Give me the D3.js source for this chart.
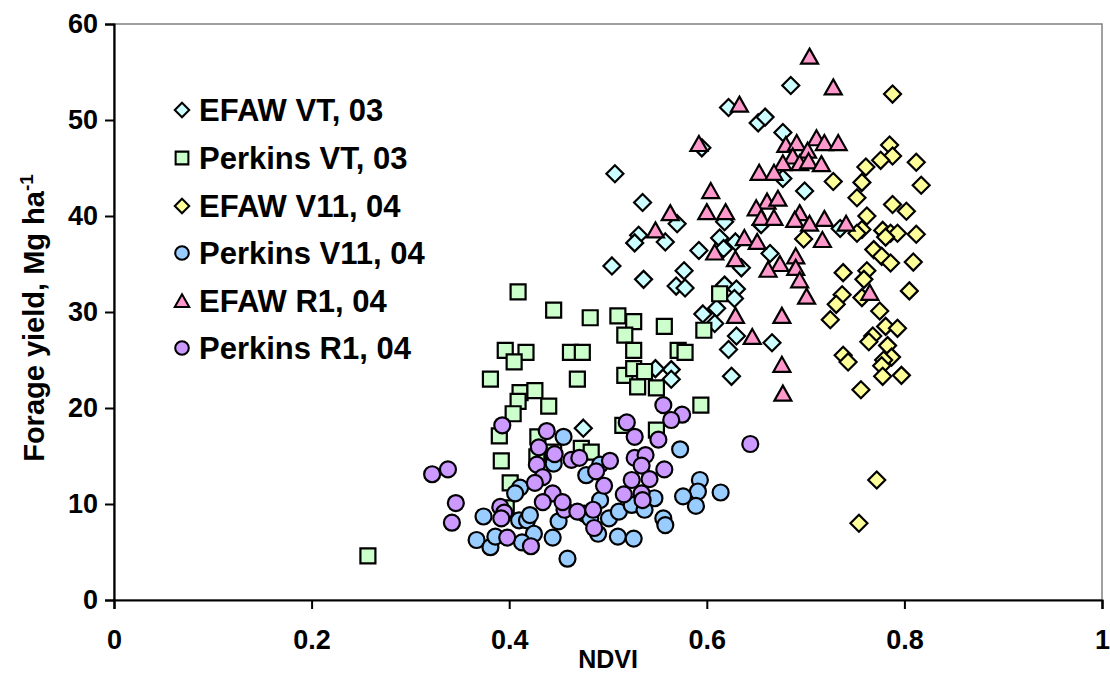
<!DOCTYPE html>
<html><head><meta charset="utf-8">
<script src="https://cdn.jsdelivr.net/npm/d3@7"></script>
<style>
html,body{margin:0;padding:0;background:#fff;}
svg text{font-family:"Liberation Sans",Arial,sans-serif;font-weight:bold;fill:#000;}
</style></head><body>
<svg id="chart" width="1110" height="676"></svg>
<script>
// ---- data (NDVI, forage yield Mg/ha) ----
const seriesNames = ["EFAW VT, 03","Perkins VT, 03","EFAW V11, 04","Perkins V11, 04","EFAW R1, 04","Perkins R1, 04"];
const xTicks = [0,0.2,0.4,0.6,0.8,1];
const xTickLabels = ["0","0.2","0.4","0.6","0.8","1"];
const yTicks = [0,10,20,30,40,50,60];

const efawVT_x = [0.685,0.622,0.652,0.659,0.677,0.595,0.507,0.677,0.699,0.535,0.570,0.618,0.655,0.531,0.527,0.558,0.613,0.629,0.735,0.592,0.617,0.664,0.504,0.635,0.536,0.577,0.569,0.578,0.618,0.630,0.628,0.610,0.596,0.608,0.630,0.666,0.622,0.625,0.564,0.564,0.548,0.475];
const efawVT_y = [53.6,51.3,49.7,50.3,48.7,47.1,44.4,43.9,42.6,41.4,39.2,39.4,39.1,38.0,37.2,37.3,37.7,37.3,38.7,36.4,36.6,36.1,34.8,34.6,33.4,34.3,32.7,32.5,32.8,32.4,31.4,30.4,29.8,28.8,27.5,26.8,26.1,23.3,24.0,23.0,24.1,17.9];

const perkVT_x = [0.409,0.445,0.482,0.510,0.526,0.517,0.526,0.396,0.417,0.405,0.462,0.474,0.381,0.469,0.517,0.526,0.537,0.530,0.549,0.411,0.426,0.440,0.409,0.404,0.390,0.429,0.392,0.428,0.401,0.257,0.515,0.549,0.473,0.483,0.445,0.397,0.557,0.613,0.597,0.571,0.578,0.594];
const perkVT_y = [32.1,30.2,29.4,29.6,29.0,27.6,26.0,26.0,25.8,24.8,25.8,25.8,23.0,23.0,23.4,24.1,23.8,22.2,22.1,21.6,21.8,20.2,20.7,19.4,17.1,17.0,14.5,14.9,12.2,4.6,18.2,17.7,15.8,15.4,15.4,9.6,28.5,31.9,28.1,26.0,25.8,20.3];

const efawV11_x = [0.788,0.785,0.788,0.776,0.812,0.761,0.728,0.757,0.817,0.752,0.788,0.802,0.762,0.757,0.752,0.778,0.786,0.793,0.781,0.812,0.698,0.769,0.777,0.786,0.809,0.738,0.762,0.759,0.805,0.737,0.731,0.757,0.775,0.725,0.781,0.793,0.768,0.764,0.783,0.738,0.743,0.787,0.779,0.777,0.797,0.778,0.756,0.772,0.754];
const efawV11_y = [52.7,47.4,46.25,45.8,45.6,45.1,43.6,43.5,43.2,41.9,41.2,40.5,40.0,38.6,38.2,38.5,38.2,38.2,37.8,38.1,37.6,36.5,35.8,35.1,35.2,34.1,34.3,33.4,32.2,31.8,30.8,31.5,30.1,29.2,28.5,28.3,27.5,26.9,26.5,25.5,24.8,25.3,25.0,24.4,23.4,23.3,21.9,12.5,8.0];

const perkV11_x = [0.455,0.411,0.406,0.445,0.478,0.492,0.374,0.367,0.381,0.386,0.410,0.418,0.421,0.425,0.413,0.444,0.450,0.459,0.476,0.482,0.492,0.490,0.501,0.511,0.510,0.526,0.524,0.573,0.593,0.591,0.589,0.576,0.614,0.556,0.558,0.547,0.537];
const perkV11_y = [17.0,11.7,11.1,14.2,13.0,14.1,8.7,6.25,5.5,6.6,8.3,8.3,8.85,6.9,6.0,6.5,8.2,4.3,9.0,8.5,10.4,6.9,8.5,9.2,6.6,6.4,9.9,15.7,12.5,11.3,9.8,10.8,11.2,8.5,7.8,10.6,9.4];

const efawR1_x = [0.704,0.728,0.633,0.592,0.680,0.691,0.711,0.719,0.733,0.702,0.687,0.677,0.694,0.703,0.716,0.653,0.668,0.604,0.661,0.672,0.650,0.563,0.600,0.619,0.655,0.668,0.694,0.689,0.704,0.719,0.741,0.548,0.638,0.651,0.717,0.608,0.629,0.690,0.674,0.662,0.690,0.694,0.701,0.765,0.629,0.676,0.646,0.676,0.677];
const efawR1_y = [56.6,53.4,51.6,47.5,47.4,47.6,48.1,47.6,47.6,46.8,46.2,45.5,45.5,45.7,45.4,44.5,44.5,42.6,41.5,41.8,40.8,40.3,40.4,40.4,39.8,39.8,40.3,39.6,39.2,39.7,39.2,38.5,37.7,37.3,37.5,36.2,35.5,35.8,35.0,34.4,34.6,33.3,31.6,32.0,29.6,29.6,27.4,24.5,21.5];

const perkR1_x = [0.322,0.338,0.346,0.342,0.393,0.438,0.430,0.446,0.428,0.434,0.426,0.463,0.471,0.502,0.488,0.496,0.444,0.434,0.456,0.454,0.469,0.485,0.486,0.391,0.395,0.392,0.398,0.422,0.519,0.527,0.524,0.516,0.527,0.556,0.575,0.564,0.551,0.644,0.538,0.534,0.557,0.542,0.534,0.535];
const perkR1_y = [13.1,13.6,10.1,8.05,18.2,17.6,15.9,15.2,14.1,12.8,12.2,14.6,14.8,14.5,13.4,11.9,11.1,10.2,9.4,10.2,9.2,9.4,7.5,9.7,9.1,8.5,6.5,5.6,18.5,17.0,12.5,11.0,14.8,20.3,19.3,18.75,16.7,16.25,15.1,14.0,13.6,12.6,11.1,10.4];

// ---- styling ----
const fills = ["#CCFFFF","#CCFFCC","#FFFF99","#99CCFF","#FF99CC","#CC99FF"];
const shapes = ["diamond","square","diamond","circle","triangle","circle"];
const seriesX = [efawVT_x,perkVT_x,efawV11_x,perkV11_x,efawR1_x,perkR1_x];
const seriesY = [efawVT_y,perkVT_y,efawV11_y,perkV11_y,efawR1_y,perkR1_y];

const svg = d3.select("#chart");
const L = 114, R = 1102, T = 24, B = 600;
const x = d3.scaleLinear().domain([0,1]).range([L,R]);
const y = d3.scaleLinear().domain([0,60]).range([B,T]);

function shapePath(s){
  if(s==="diamond") return "M0,-8.5L8.5,0L0,8.5L-8.5,0Z";
  if(s==="square") return "M-7.5,-7.5H7.5V7.5H-7.5Z";
  if(s==="triangle") return "M0,-8L8.5,7L-8.5,7Z";
  return d3.symbol(d3.symbolCircle, Math.PI*8*8)();
}

// plot-area border (grey top/right)
svg.append("rect").attr("x",L).attr("y",T).attr("width",R-L).attr("height",B-T)
  .attr("fill","none").attr("stroke","#808080").attr("stroke-width",1.5);

const FONT = "'Liberation Sans',Arial,sans-serif";
// axes
const xAxis = d3.axisBottom(x).tickValues(xTicks).tickFormat((d,i)=>xTickLabels[i]).tickSize(9).tickPadding(21);
const gx = svg.append("g").attr("transform",`translate(0,${B})`).call(xAxis);
gx.select(".domain").attr("stroke","#000").attr("stroke-width",2.2);
gx.selectAll(".tick line").attr("stroke","#000").attr("stroke-width",2);
gx.selectAll(".tick text").style("font-size","27px").style("font-family",FONT).style("font-weight","bold");

const yAxis = d3.axisLeft(y).tickValues(yTicks).tickSize(9).tickPadding(7);
const gy = svg.append("g").attr("transform",`translate(${L},0)`).call(yAxis);
gy.select(".domain").attr("stroke","#000").attr("stroke-width",2.2);
gy.selectAll(".tick line").attr("stroke","#000").attr("stroke-width",2);
gy.selectAll(".tick text").style("font-size","27px").style("font-family",FONT).style("font-weight","bold");

// points
seriesNames.forEach((name,i)=>{
  const pts = seriesX[i].map((v,j)=>({x:v,y:seriesY[i][j]}));
  svg.append("g").selectAll("path").data(pts).enter().append("path")
    .attr("d",shapePath(shapes[i]))
    .attr("transform",d=>`translate(${x(d.x)},${y(d.y)})`)
    .attr("fill",fills[i]).attr("stroke","#000").attr("stroke-width",2.2);
});

// axis titles
svg.append("text").attr("x",x(0.5)).attr("y",668).attr("text-anchor","middle")
  .style("font-size","25px").text("NDVI");
const yt = svg.append("text").attr("transform","translate(44,318) rotate(-90)").attr("text-anchor","middle")
  .style("font-size","29px");
yt.append("tspan").text("Forage yield, Mg ha");
yt.append("tspan").attr("dy",-11).style("font-size","19px").text("-1");

// legend
const legY = [110,158,206,253,301,348];
seriesNames.forEach((name,i)=>{
  const g = svg.append("g").attr("transform",`translate(182,${legY[i]})`);
  g.append("path").attr("d",shapePath(shapes[i])).attr("transform","scale(0.85)")
    .attr("fill",fills[i]).attr("stroke","#000").attr("stroke-width",2.4);
  g.append("text").attr("x",17).attr("y",11).style("font-size","31px").text(name);
});
</script></body></html>
